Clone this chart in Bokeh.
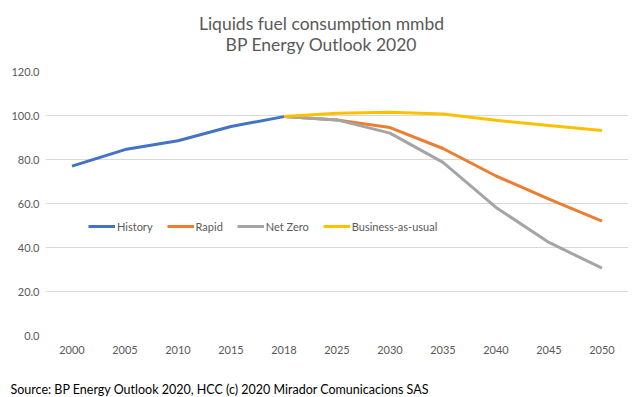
from bokeh.plotting import figure
from bokeh.models import Range1d, FactorRange, Legend, LegendItem, CustomJSTickFormatter, Label
from bokeh.layouts import column
from bokeh.embed import file_html
from bokeh.resources import INLINE

years = ["2000", "2005", "2010", "2015", "2018", "2025", "2030", "2035", "2040", "2045", "2050"]
hist_years = ["2000", "2005", "2010", "2015", "2018"]
history = [77.0, 84.5, 88.5, 95.0, 99.5]
proj_years = ["2018", "2025", "2030", "2035", "2040", "2045", "2050"]
rapid = [99.5, 98.0, 94.5, 85.0, 72.5, 62.0, 52.0]
net_zero = [99.5, 98.0, 92.0, 78.7, 58.2, 42.3, 30.6]
bau = [99.5, 101.0, 101.5, 100.7, 97.8, 95.5, 93.2]
y_ticks = [0, 20, 40, 60, 80, 100, 120]

FONT = "Lato"
GREY = "#595959"
W = 643
TOP_H, MAIN_H, BOT_H = 60, 310, 27


def text_strip(h):
    f = figure(width=W, height=h, x_range=Range1d(0, W), y_range=Range1d(0, h),
               output_backend="svg", toolbar_location=None, title=None,
               x_axis_location=None, y_axis_location=None,
               min_border=0, min_border_left=0, min_border_right=0,
               min_border_top=0, min_border_bottom=0)
    f.frame_align = False
    f.outline_line_color = None
    f.grid.grid_line_color = None
    f.background_fill_color = "white"
    f.border_fill_color = "white"
    return f


# title strip
top = text_strip(TOP_H)
top.add_layout(Label(x=321, y=TOP_H - 23, text="Liquids fuel consumption mmbd", text_font=FONT,
                     text_font_size="17.5px", text_color=GREY, text_align="center", text_baseline="middle"))
top.add_layout(Label(x=321, y=TOP_H - 44, text="BP Energy Outlook 2020", text_font=FONT,
                     text_font_size="17.5px", text_color=GREY, text_align="center", text_baseline="middle"))

# main chart
p = figure(width=W, height=MAIN_H, x_range=FactorRange(*years), y_range=Range1d(0, 120),
           output_backend="svg", toolbar_location=None, title=None,
           min_border_left=45, min_border_right=15, min_border_top=11, min_border_bottom=35)
p.frame_align = False
p.outline_line_color = None
p.background_fill_color = "white"
p.border_fill_color = "white"
p.xgrid.grid_line_color = None
p.ygrid.grid_line_color = "#d9d9d9"
p.ygrid.grid_line_width = 1
p.yaxis.ticker = y_ticks
p.yaxis.formatter = CustomJSTickFormatter(code="return tick.toFixed(1);")
for ax in (p.xaxis, p.yaxis):
    ax.axis_line_color = None
    ax.major_tick_line_color = None
    ax.minor_tick_line_color = None
    ax.major_tick_out = 0
    ax.major_tick_in = 0
    ax.major_label_text_font = FONT
    ax.major_label_text_font_size = "11px"
    ax.major_label_text_color = GREY
p.yaxis.major_label_standoff = 6
p.xaxis.major_label_standoff = 10

r1 = p.line(hist_years, history, line_color="#4472C4", line_width=3)
r2 = p.line(proj_years, rapid, line_color="#ED7D31", line_width=3)
r3 = p.line(proj_years, net_zero, line_color="#A5A5A5", line_width=3)
r4 = p.line(proj_years, bau, line_color="#FFC000", line_width=3)

legend = Legend(items=[LegendItem(label="History", renderers=[r1]),
                       LegendItem(label="Rapid", renderers=[r2]),
                       LegendItem(label="Net Zero", renderers=[r3]),
                       LegendItem(label="Business-as-usual", renderers=[r4])],
                orientation="horizontal", location=(43, 99))
legend.background_fill_alpha = 0
legend.border_line_color = None
legend.padding = 0
legend.margin = 0
legend.spacing = 14
legend.glyph_width = 27
legend.glyph_height = 20
legend.label_standoff = 2
legend.label_text_font = FONT
legend.label_text_font_size = "11px"
legend.label_text_color = GREY
p.add_layout(legend)

# source strip
bot = text_strip(BOT_H)
bot.add_layout(Label(x=10, y=BOT_H - 19, text="Source: BP Energy Outlook 2020, HCC (c) 2020 Mirador Comunicacions SAS",
                     text_font=FONT, text_font_size="12.5px", text_color="black",
                     text_align="left", text_baseline="middle"))

layout = column(top, p, bot, spacing=0)
open("out.html", "w").write(file_html(layout, INLINE))
